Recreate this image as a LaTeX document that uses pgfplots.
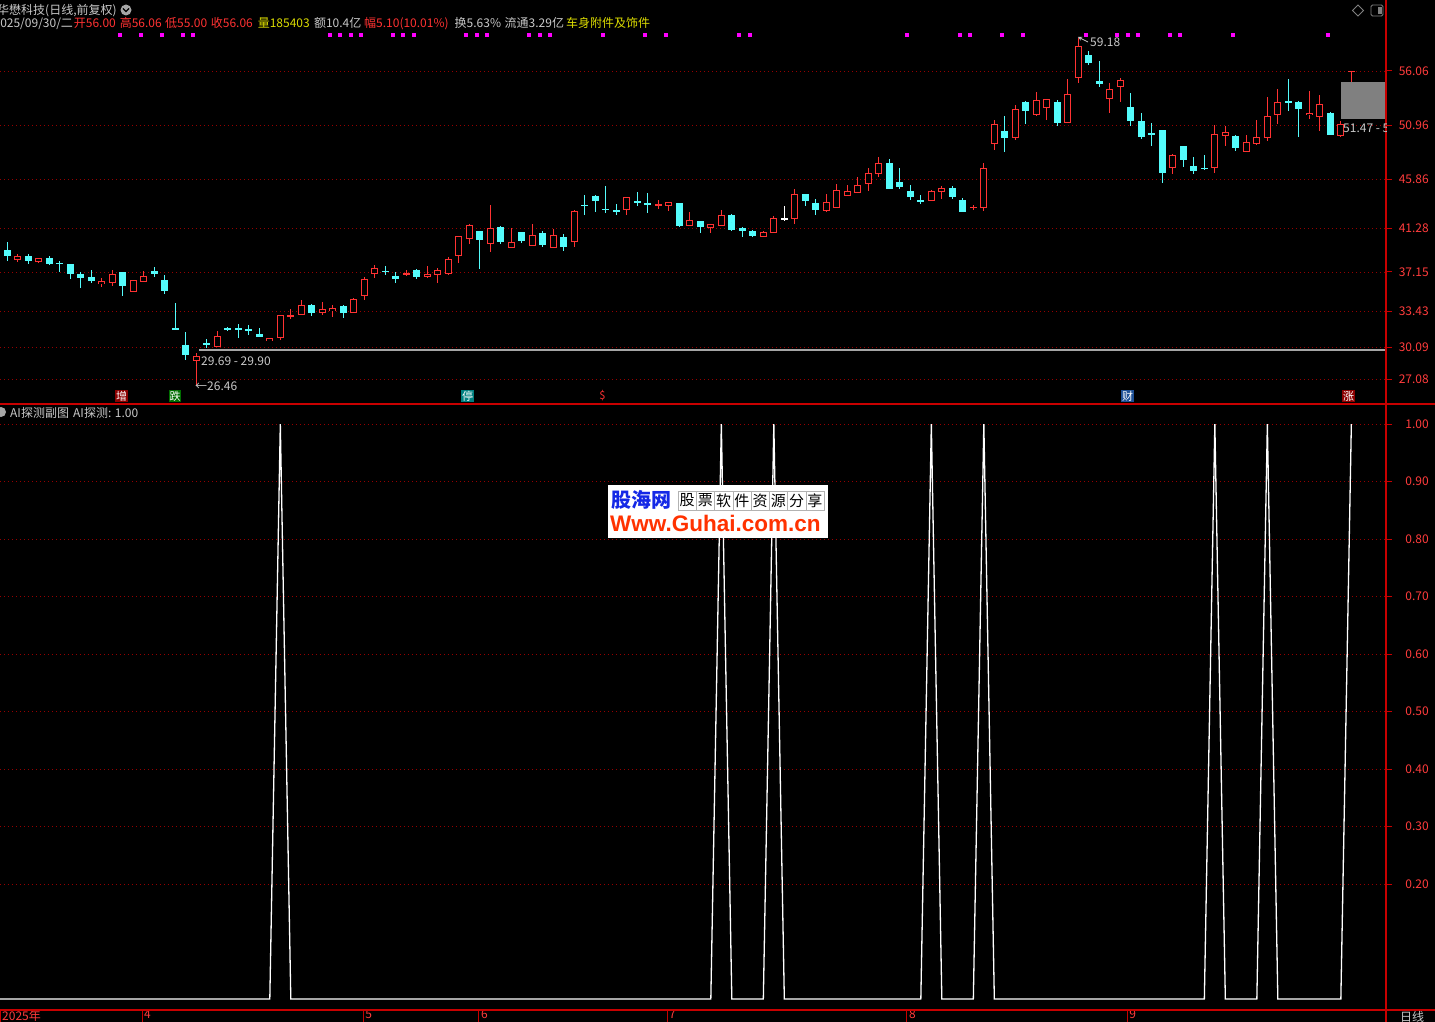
\documentclass[border=0pt]{standalone}
\usepackage{pgfplots}
\pgfplotsset{compat=1.18}
\usepackage{pgfplotstable}
\usepackage{fontspec}
\setmainfont{Noto Sans CJK SC}
\newfontfamily\lib{Liberation Sans}

\definecolor{upred}{RGB}{255,50,50}
\definecolor{dncyan}{RGB}{84,252,252}
\definecolor{axisred}{RGB}{200,0,0}
\definecolor{gridred}{RGB}{150,0,0}
\definecolor{lblred}{RGB}{255,60,60}
\definecolor{txtgray}{RGB}{200,200,200}
\definecolor{hdryellow}{RGB}{220,220,0}
\definecolor{sigmag}{RGB}{255,0,255}
\definecolor{gapgray}{RGB}{165,165,165}

% daily bars: index, open, high, low, close
\pgfplotstableread{
i O H L C
1 38.37 38.87 38.08 38.62
3 38.12 38.43 37.99 38.43
9 36.04 36.61 35.73 36.26
10 36.20 37.30 35.79 36.89
12 35.35 36.42 35.35 36.32
13 36.29 37.27 36.29 36.73
18 28.84 29.54 26.46 29.19
20 30.16 31.64 30.16 31.04
25 30.67 30.95 30.67 30.86
26 30.95 33.02 30.76 33.02
27 33.00 33.65 32.71 33.06
28 33.12 34.47 33.12 33.97
30 33.31 34.28 33.12 33.59
31 33.55 34.09 32.96 33.67
33 33.31 34.72 33.31 34.53
34 34.91 36.67 34.47 36.42
35 36.98 37.77 36.61 37.46
38 36.95 37.36 36.80 37.01
40 36.73 37.68 36.58 36.92
41 36.89 37.55 36.10 37.30
42 37.05 38.56 36.83 38.30
43 38.74 40.50 37.98 40.50
44 40.34 41.69 39.81 41.50
46 39.81 43.42 39.02 41.22
48 39.49 41.25 39.37 39.90
50 39.68 41.63 39.68 40.56
52 39.46 41.16 39.37 40.56
54 40.06 42.95 39.49 42.82
59 43.01 44.14 42.48 44.14
62 43.45 43.89 43.04 43.49
63 43.45 43.67 42.85 43.67
65 41.57 42.76 41.57 41.97
67 41.31 41.69 40.81 41.60
68 41.57 42.95 41.57 42.45
72 40.47 40.97 40.47 40.84
73 40.84 42.45 40.84 42.16
75 42.16 44.93 41.69 44.46
78 42.89 44.46 42.79 43.67
79 43.26 45.40 43.26 44.83
80 44.39 45.31 44.39 44.71
81 44.65 46.06 44.58 45.31
82 45.43 46.91 44.74 46.44
83 46.38 47.98 46.09 47.38
88 43.89 44.83 43.80 44.74
89 44.68 45.21 44.00 44.99
92 43.20 43.45 42.95 43.26
93 43.26 47.45 42.89 46.87
94 49.21 51.46 48.65 50.99
96 49.84 52.90 49.59 52.40
98 51.93 54.12 51.78 53.25
99 52.59 53.43 51.46 53.34
101 51.18 55.31 51.18 53.81
102 55.47 59.18 54.90 58.41
105 53.50 54.93 52.09 54.28
106 54.62 55.40 53.18 55.15
111 46.96 48.27 46.33 48.08
115 46.96 51.02 46.46 50.05
116 49.96 50.84 49.05 50.27
118 48.52 50.08 48.43 49.33
119 49.27 51.46 49.11 49.77
120 49.77 53.59 49.46 51.78
121 51.93 54.37 51.09 53.12
124 51.93 54.21 51.56 52.03
125 51.78 53.84 50.46 52.87
127 49.96 51.40 49.84 50.99
128 56.00 56.06 55.00 56.06
}\upbars

\pgfplotstableread{
i O H L C
0 39.19 39.94 38.18 38.62
2 38.62 38.81 37.86 38.18
4 38.43 38.62 37.77 37.86
5 37.99 38.18 37.14 37.95
6 37.86 37.86 36.48 36.95
7 36.95 37.11 35.63 36.58
8 36.64 37.36 36.10 36.26
11 37.11 37.11 34.88 35.82
14 37.20 37.58 36.67 36.92
15 36.42 36.83 35.07 35.35
16 31.86 34.22 31.77 31.77
17 30.32 31.55 28.84 29.38
19 30.40 30.86 29.98 30.38
21 31.80 32.02 31.58 31.76
22 31.80 32.27 30.95 31.75
23 31.74 32.14 31.26 31.70
24 31.36 31.89 31.01 31.01
29 34.09 34.16 33.02 33.31
32 33.97 34.09 32.84 33.28
36 37.25 37.68 36.86 37.20
37 36.80 37.14 36.10 36.48
39 37.36 37.46 36.48 36.67
45 40.97 40.97 37.42 40.12
47 41.35 41.44 39.81 39.93
49 40.87 40.87 39.87 40.06
51 40.78 40.97 39.49 39.68
53 40.47 40.75 39.11 39.49
55 43.45 44.36 42.48 43.40
56 44.27 44.36 42.79 43.83
57 43.07 45.21 42.70 43.02
58 42.95 43.58 42.48 42.76
60 43.80 44.71 43.33 43.70
61 43.60 44.55 42.70 43.55
64 43.61 43.67 41.38 41.44
66 41.91 41.91 40.81 41.38
69 42.48 42.57 41.00 41.06
70 41.25 41.38 40.43 41.00
71 40.97 41.13 40.43 40.53
76 44.46 44.52 43.36 43.80
77 43.64 44.05 42.54 42.95
84 47.38 47.76 44.93 44.93
85 45.59 46.91 44.93 45.12
86 44.74 45.31 43.89 44.18
87 43.88 44.36 43.55 43.84
90 45.02 45.24 44.02 44.21
91 43.89 44.08 42.79 42.79
95 50.37 51.87 48.43 49.74
97 53.18 53.28 51.09 52.28
100 53.18 53.34 50.87 51.15
103 57.59 57.97 56.62 56.78
104 55.15 57.03 54.53 54.84
107 52.71 53.96 50.93 51.34
108 51.40 52.09 49.68 49.84
109 50.27 51.18 49.05 50.02
110 50.55 50.55 45.52 46.46
112 48.96 49.05 47.02 47.65
113 47.08 47.96 46.33 46.64
114 46.93 48.11 46.71 46.89
117 49.99 50.05 48.52 48.80
122 53.21 55.31 52.34 53.15
123 53.12 53.28 49.84 52.49
126 52.12 52.24 50.05 50.05
}\downbars

\pgfplotstableread{
i O H L C
74 42.16 43.33 41.94 42.16
}\flatbars

\pgfplotsset{
  stick/.style 2 args={only marks, mark=*, mark size=0pt,
    mark options={draw=none, fill=none}, forget plot,
    error bars/.cd, y dir=both, y explicit, error mark=none,
    error bar style={draw=#1, line width=#2}},
}

\begin{document}
\fontsize{12}{14}\selectfont
\begin{tikzpicture}[x=1pt, y=-1pt]
\fill[black] (0,0) rectangle (1435,1022);
\useasboundingbox (0,0) rectangle (1435,1022);

% ---------- price panel ----------
\begin{axis}[
  at={(0pt,-404pt)}, anchor=south west,
  width=1386pt, height=404pt, scale only axis,
  xmin=-0.695, xmax=131.3, ymin=24.73, ymax=62.74,
  axis x line=none, axis y line*=right,
  axis line style={draw=none},
  ytick={27.08,30.09,33.43,37.15,41.28,45.86,50.96,56.06},
  yticklabels={27.08,30.09,33.43,37.15,41.28,45.86,50.96,56.06},
  ymajorgrids, grid style={gridred, dash pattern=on 1pt off 3pt},
  tick align=outside, major tick length=6pt,
  tick style={axisred, line width=1pt},
  yticklabel style={text=lblred, anchor=east, inner sep=0pt, xshift=37pt},
]
\addplot[gapgray, line width=2pt, forget plot] coordinates {(18.27,29.82) (131.3,29.82)};

% up days: wick, red outline, black inside
\addplot[stick={upred}{1pt}] table[x=i, y expr={(\thisrow{H}+\thisrow{L})/2},
  y error expr={(\thisrow{H}-\thisrow{L})/2}] {\upbars};
\addplot[stick={upred}{7pt}] table[x=i, y expr={(\thisrow{O}+\thisrow{C})/2},
  y error expr={abs(\thisrow{C}-\thisrow{O})/2+0.047}] {\upbars};
\addplot[stick={black}{5pt}] table[x=i, y expr={(\thisrow{O}+\thisrow{C})/2},
  y error expr={max(abs(\thisrow{C}-\thisrow{O})/2-0.047,0)}] {\upbars};

% down days: filled cyan
\addplot[stick={dncyan}{1pt}] table[x=i, y expr={(\thisrow{H}+\thisrow{L})/2},
  y error expr={(\thisrow{H}-\thisrow{L})/2}] {\downbars};
\addplot[stick={dncyan}{7pt}] table[x=i, y expr={(\thisrow{O}+\thisrow{C})/2},
  y error expr={max(abs(\thisrow{C}-\thisrow{O})/2,0.06)}] {\downbars};

% unchanged day
\addplot[stick={white}{1pt}] table[x=i, y expr={(\thisrow{H}+\thisrow{L})/2},
  y error expr={(\thisrow{H}-\thisrow{L})/2}] {\flatbars};
\addplot[stick={white}{7pt}] table[x=i, y expr={(\thisrow{O}+\thisrow{C})/2},
  y error expr={0.06}] {\flatbars};

% signal dots along the top
\addplot[only marks, mark=square*, mark size=1.5pt, sigmag, forget plot] coordinates {
  (10.7,59.45) (12.7,59.45) (14.7,59.45) (16.7,59.45) (17.7,59.45)
  (30.7,59.45) (31.7,59.45) (32.7,59.45) (33.7,59.45) (36.7,59.45)
  (37.7,59.45) (38.7,59.45) (43.7,59.45) (44.7,59.45) (45.7,59.45)
  (49.7,59.45) (50.7,59.45) (51.7,59.45) (56.7,59.45) (60.7,59.45)
  (62.7,59.45) (69.7,59.45) (70.7,59.45) (85.7,59.45) (90.7,59.45)
  (91.7,59.45) (94.7,59.45) (96.7,59.45) (102.7,59.45) (105.7,59.45)
  (106.7,59.45) (107.7,59.45) (110.7,59.45) (111.7,59.45) (116.7,59.45)
  (125.7,59.45)};

\fill[gray] (axis cs:126.99,55.0) rectangle (axis cs:131.3,51.5);
\end{axis}

% ---------- indicator panel ----------
\begin{axis}[
  at={(0pt,-1010pt)}, anchor=south west,
  width=1386pt, height=606pt, scale only axis,
  xmin=-0.695, xmax=131.3, ymin=-0.0191, ymax=1.0348,
  axis x line*=bottom, axis y line*=right,
  axis line style={draw=none},
  xtick=\empty,
  extra x ticks={-0.695,12.83,33.88,44.92,62.83,85.68,106.64},
  extra x tick labels={2025年,4,5,6,7,8,9},
  extra x tick style={major tick length=12pt},
  minor xtick={18.07,23.35,28.60,36.60,39.36,42.11,49.30,53.83,58.26,68.50,74.31,79.97,91.02,96.16,101.40},
  minor tick length=4pt,
  xticklabel style={text=lblred, anchor=north west, inner sep=0pt, xshift=2pt, yshift=12pt},
  ytick={0.2,0.3,0.4,0.5,0.6,0.7,0.8,0.9,1.0},
  yticklabels={0.20,0.30,0.40,0.50,0.60,0.70,0.80,0.90,1.00},
  ymajorgrids, grid style={gridred, dash pattern=on 1pt off 3pt},
  tick align=outside, major tick length=6pt,
  tick style={axisred, line width=1pt},
  yticklabel style={text=lblred, anchor=east, inner sep=0pt, xshift=37pt},
]
\addplot[white, line width=1.3pt] coordinates {
  (-1,0) (0,0) (1,0) (2,0) (3,0) (4,0) (5,0) (6,0) (7,0) (8,0) (9,0)
  (10,0) (11,0) (12,0) (13,0) (14,0) (15,0) (16,0) (17,0) (18,0) (19,0)
  (20,0) (21,0) (22,0) (23,0) (24,0) (25,0) (26,1) (27,0) (28,0) (29,0)
  (30,0) (31,0) (32,0) (33,0) (34,0) (35,0) (36,0) (37,0) (38,0) (39,0)
  (40,0) (41,0) (42,0) (43,0) (44,0) (45,0) (46,0) (47,0) (48,0) (49,0)
  (50,0) (51,0) (52,0) (53,0) (54,0) (55,0) (56,0) (57,0) (58,0) (59,0)
  (60,0) (61,0) (62,0) (63,0) (64,0) (65,0) (66,0) (67,0) (68,1) (69,0)
  (70,0) (71,0) (72,0) (73,1) (74,0) (75,0) (76,0) (77,0) (78,0) (79,0)
  (80,0) (81,0) (82,0) (83,0) (84,0) (85,0) (86,0) (87,0) (88,1) (89,0)
  (90,0) (91,0) (92,0) (93,1) (94,0) (95,0) (96,0) (97,0) (98,0) (99,0)
  (100,0) (101,0) (102,0) (103,0) (104,0) (105,0) (106,0) (107,0) (108,0) (109,0)
  (110,0) (111,0) (112,0) (113,0) (114,0) (115,1) (116,0) (117,0) (118,0) (119,0)
  (120,1) (121,0) (122,0) (123,0) (124,0) (125,0) (126,0) (127,0) (128,1)};
\end{axis}

% frame lines
\draw[axisred, line width=1.5pt] (0,404) -- (1435,404);
\draw[axisred, line width=1.5pt] (0,1010) -- (1435,1010);
\draw[axisred, line width=1.5pt] (1386,0) -- (1386,1022);

% header
\node[anchor=base west, inner sep=0, txtgray] at (-3,14.5) {华懋科技(日线,前复权)};
\fill[gray!70] (126,10) circle (5.5);
\draw[black, line width=1.2pt] (123,8.5) -- (126,11.5) -- (129,8.5);
\begin{scope}[every node/.style={anchor=base west, inner sep=0}]
\node[txtgray] at (-6.6,27.5) {2025/09/30/二};
\node[upred] at (73.7,27.5) {开56.00};
\node[upred] at (119.6,27.5) {高56.06};
\node[upred] at (165,27.5) {低55.00};
\node[upred] at (210.7,27.5) {收56.06};
\node[hdryellow] at (257.6,27.5) {量185403};
\node[txtgray] at (313.8,27.5) {额10.4亿};
\node[upred] at (364,27.5) {幅5.10(10.01\%)};
\node[txtgray] at (454.5,27.5) {换5.63\%};
\node[txtgray] at (504.5,27.5) {流通3.29亿};
\node[hdryellow] at (566,27.5) {车身附件及饰件};
\node[txtgray] at (10,417) {AI探测副图};
\node[txtgray] at (73,417) {AI探测: 1.00};
\node[txtgray] at (1400,1021) {日线};
\end{scope}
\fill[gray!70] (1,412) circle (5);
\draw[gray, line width=0.8pt] (1358,5) -- (1363.5,10.5) -- (1358,16) -- (1352.5,10.5) -- cycle;
\draw[gray, line width=0.8pt, rounded corners=1.5pt] (1371,5) rectangle (1383,16);
\fill[gray] (1378,7) rectangle (1381.5,14);

% price annotations
\node[anchor=west, inner sep=0, txtgray] at (201,361) {29.69 - 29.90};
\node[anchor=west, inner sep=0, txtgray] at (195,386) {←26.46};
\draw[txtgray, line width=0.8pt, -stealth] (1088,42) -- (1078,37);
\node[anchor=west, inner sep=0, txtgray] at (1090,42) {59.18};
\begin{scope}
\clip (1300,110) rectangle (1386,140);
\node[anchor=west, inner sep=0, txtgray] at (1343,128) {51.47 - 51.50};
\end{scope}

% event tags
\begin{scope}[every node/.style={inner sep=0.6pt, text=white, font=\fontsize{11}{12}\selectfont}]
\node[fill={rgb,255:red,140;green,0;blue,0}] at (121.5,396) {增};
\node[fill={rgb,255:red,0;green,110;blue,0}] at (175,396) {跌};
\node[fill={rgb,255:red,0;green,128;blue,128}] at (467.5,396) {停};
\node[text=upred] at (602.5,396) {\$};
\node[fill={rgb,255:red,30;green,80;blue,150}] at (1127.5,396) {财};
\node[fill={rgb,255:red,140;green,0;blue,0}] at (1348.5,396) {涨};
\end{scope}

% watermark
\fill[white] (608,485) rectangle (828,538);
\node[anchor=west, inner sep=0, text={rgb,255:red,20;green,40;blue,230}, font=\fontsize{20}{22}\selectfont\bfseries] at (611,500) {股海网};
\foreach \c [count=\k] in {股,票,软,件,资,源,分,享}
  \node[draw=gray!60, minimum width=18.25pt, minimum height=19pt, inner sep=0, text=black, font=\fontsize{15}{16}\selectfont] at (678+18.25*\k-9.1,500.5) {\c};
\node[anchor=west, inner sep=0, text={rgb,255:red,255;green,50;blue,0}, font=\lib\fontsize{22.5}{24}\selectfont\bfseries] at (610,523) {Www.Guhai.com.cn};
\end{tikzpicture}
\end{document}
